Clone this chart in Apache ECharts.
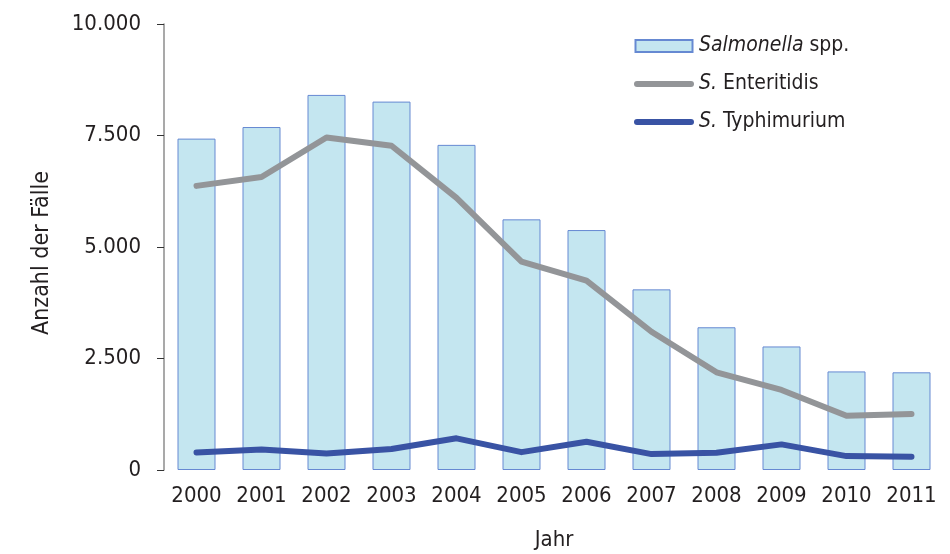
<!DOCTYPE html>
<html>
<head>
<meta charset="utf-8">
<script src="https://cdn.jsdelivr.net/npm/echarts@6/dist/echarts.min.js"></script>
<style>
  html, body { margin: 0; padding: 0; background: #ffffff; }
  #chart { width: 950px; height: 554px; }
</style>
</head>
<body>
<div id="chart"></div>
<script>
// Jahre und Fallzahlen
const years = ['2000', '2001', '2002', '2003', '2004', '2005', '2006', '2007', '2008', '2009', '2010', '2011'];
const salmonellaSpp = [7430, 7690, 8410, 8260, 7290, 5620, 5380, 4050, 3200, 2770, 2210, 2190];
const enteritidis = [6370, 6570, 7455, 7270, 6100, 4670, 4245, 3100, 2190, 1795, 1215, 1255];
const typhimurium = [395, 460, 372, 470, 710, 400, 633, 357, 386, 574, 312, 296];
const yTicks = [0, 2500, 5000, 7500, 10000];

const FONT = '"DejaVu Sans Condensed", "DejaVu Sans", sans-serif';
const TEXT = '#231f20';

// Tausendertrennzeichen mit Punkt
function fmt(v) {
  return String(v).replace(/\B(?=(\d{3})+(?!\d))/g, '.');
}

// abgerundeter Strich als Legendensymbol der Linien
const lineIcon = 'path://M3,0 L57,0 A3,3 0 0 1 57,6 L3,6 A3,3 0 0 1 3,0 Z';

const chart = echarts.init(document.getElementById('chart'), null, { renderer: 'canvas' });

chart.setOption({
  animation: false,
  backgroundColor: '#ffffff',
  textStyle: { fontFamily: FONT, color: TEXT },
  grid: { left: 164, right: 6, top: 24, bottom: 84, containLabel: false, outerBoundsMode: 'none' },
  legend: {
    orient: 'vertical',
    left: 629,
    top: 29,
    padding: 5,
    itemWidth: 60,
    itemHeight: 12,
    itemGap: 14,
    textStyle: {
      fontFamily: FONT, fontSize: 21, color: TEXT, lineHeight: 24,
      rich: {
        i: { fontFamily: FONT, fontSize: 21, color: TEXT, fontStyle: 'italic', lineHeight: 24 },
        n: { fontFamily: FONT, fontSize: 21, color: TEXT, lineHeight: 24 }
      }
    },
    formatter: function (name) {
      if (name === 'Salmonella spp.') return '{i|Salmonella}{n| spp.}';
      if (name === 'S. Enteritidis') return '{i|S.}{n| Enteritidis}';
      return '{i|S.}{n| Typhimurium}';
    },
    data: [
      { name: 'Salmonella spp.', icon: 'path://M1.5,0 L58.5,0 L58.5,12 L1.5,12 Z' },
      { name: 'S. Enteritidis', icon: lineIcon, itemStyle: { color: '#939598', borderWidth: 0 } },
      { name: 'S. Typhimurium', icon: lineIcon, itemStyle: { color: '#3953a4', borderWidth: 0 } }
    ]
  },
  xAxis: {
    type: 'category',
    data: years,
    name: 'Jahr',
    nameLocation: 'middle',
    nameGap: 59,
    nameTextStyle: { fontFamily: FONT, fontSize: 22, color: TEXT },
    axisLine: { show: false },
    axisTick: { show: false },
    axisLabel: { fontFamily: FONT, fontSize: 22, color: TEXT, margin: 15, interval: 0 }
  },
  yAxis: {
    type: 'value',
    min: yTicks[0],
    max: yTicks[yTicks.length - 1],
    interval: yTicks[1] - yTicks[0],
    name: 'Anzahl der Fälle',
    nameLocation: 'middle',
    nameGap: 110,
    nameTextStyle: { fontFamily: FONT, fontSize: 23, color: TEXT, padding: [0, 12, 0, 0] },
    axisLine: { show: true, lineStyle: { color: '#8c8c8c', width: 1.5 } },
    axisTick: { show: true, inside: false, length: 7, lineStyle: { color: '#333333', width: 1 } },
    splitLine: { show: false },
    axisLabel: { fontFamily: FONT, fontSize: 22, color: TEXT, margin: 23, formatter: fmt }
  },
  series: [
    {
      name: 'Salmonella spp.',
      type: 'bar',
      data: salmonellaSpp,
      barWidth: 38,
      itemStyle: { color: '#c4e6f0', borderColor: '#6689d2', borderWidth: 1 }
    },
    {
      name: 'S. Enteritidis',
      type: 'line',
      data: enteritidis,
      symbol: 'none',
      lineStyle: { color: '#939598', width: 6, cap: 'round', join: 'round' },
      itemStyle: { color: '#939598' }
    },
    {
      name: 'S. Typhimurium',
      type: 'line',
      data: typhimurium,
      symbol: 'none',
      lineStyle: { color: '#3953a4', width: 6, cap: 'round', join: 'round' },
      itemStyle: { color: '#3953a4' }
    }
  ]
});
</script>
</body>
</html>
